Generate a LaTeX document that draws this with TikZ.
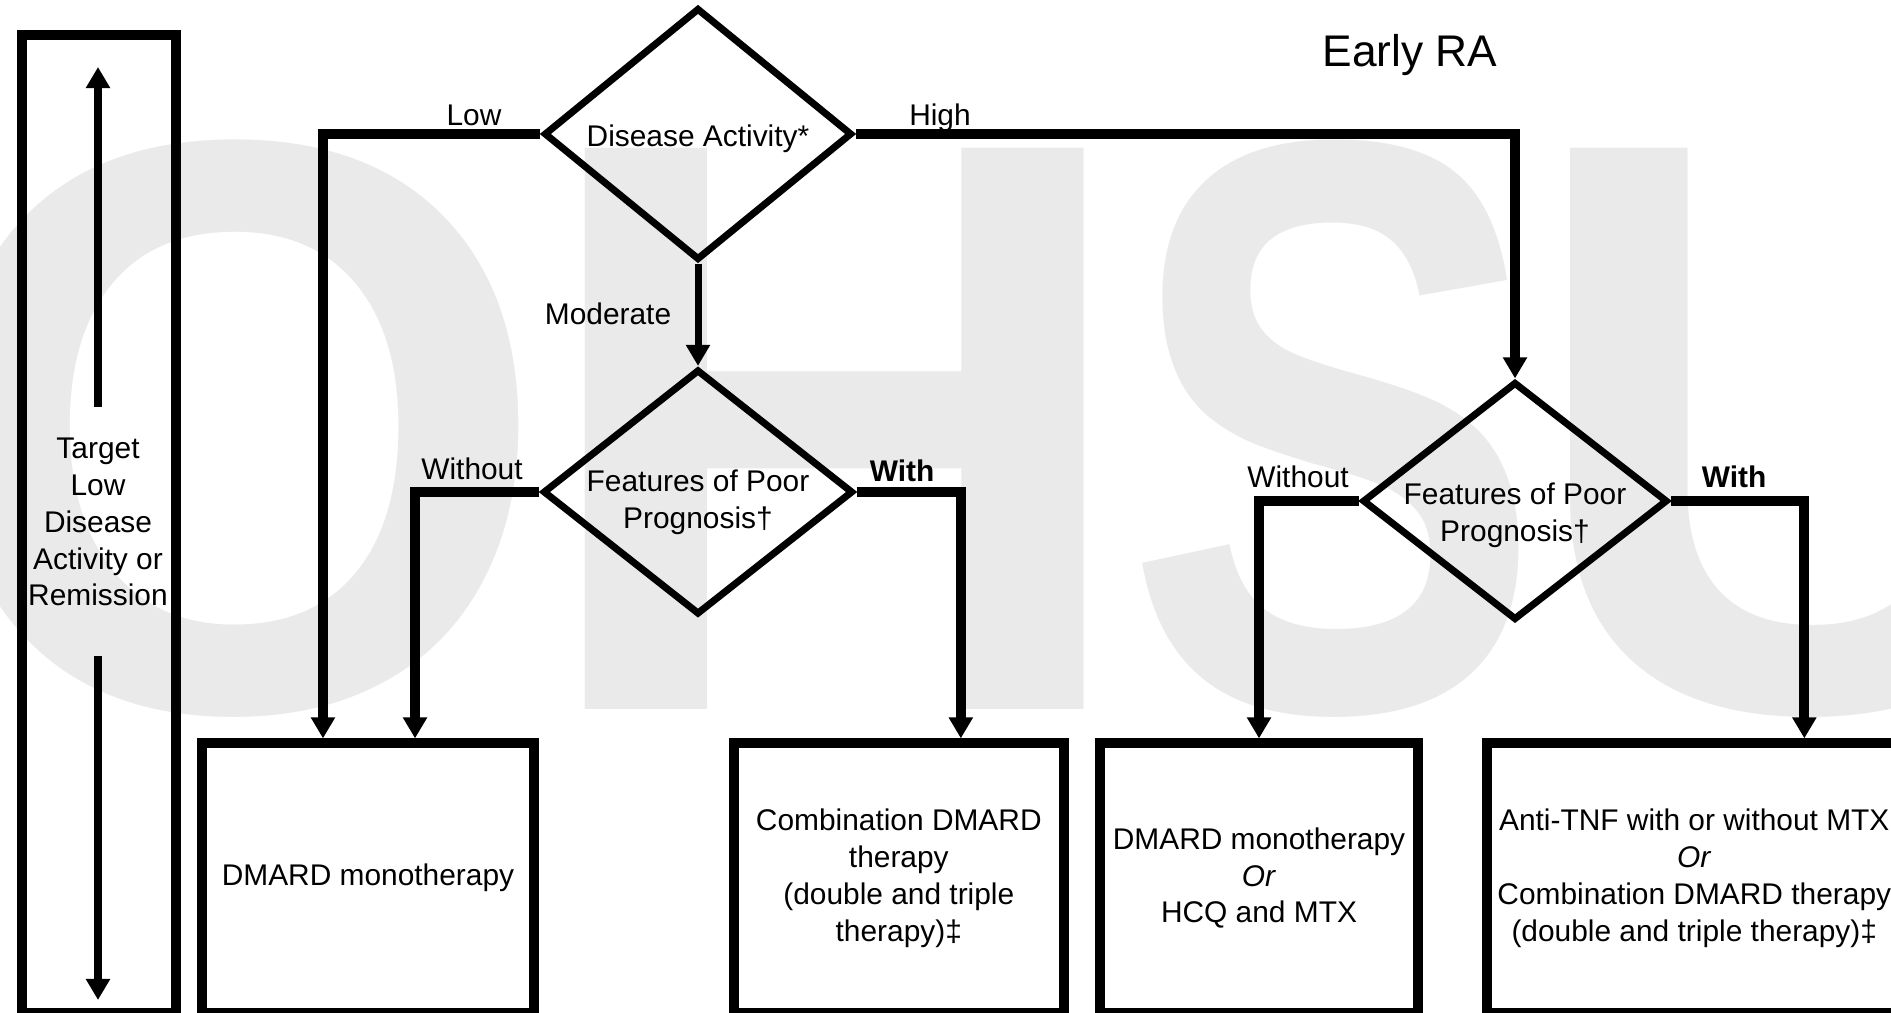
\documentclass[tikz,border=0pt]{standalone}
\usepackage{fontspec}
\setmainfont{Liberation Sans}
\usetikzlibrary{arrows.meta, positioning, shapes.geometric}
\definecolor{wmGray}{HTML}{EAEAEA}

\begin{document}
\begin{tikzpicture}[x=0.01cm, y=-0.01cm,
  node distance=1.9cm,
  every node/.style={font=\fontsize{8.5}{10.5}\selectfont, align=center, inner sep=0pt},
  box/.style={rectangle, draw, line width=0.1cm, minimum width=3.31cm, minimum height=2.69cm},
  decision/.style={diamond, draw, line width=0.07cm, minimum width=3.08cm, minimum height=2.52cm},
  lbl/.style={anchor=base},
  wmark/.style={anchor=base, text=wmGray, font=\fontsize{232}{232}\selectfont\bfseries},
  arr/.style={-{Triangle[width=0.23cm, length=0.21cm]}, line width=0.1cm}
]
  \useasboundingbox (0,0) rectangle (1891,1013);
  \clip (0,0) rectangle (1891,1013);

  % watermark
  \foreach \ch/\cx/\sx in {O/236/1, H/835/1.04, S/1334/0.77, U/1816/1}
    \node[wmark] (wm\ch) at (\cx,709) {\scalebox{\sx}[1]{\ch}};

  \node[lbl, font=\fontsize{12.6}{15}\selectfont] (title) at (1410,67) {Early RA};

  % target column
  \node[box, minimum width=1.54cm, minimum height=9.78cm] (target) at (99,524) {};
  \node (tgtxt) at (98,522) {Target\\Low\\Disease\\Activity or\\Remission};
  \coordinate (uptip)  at (98,67);
  \coordinate (upbase) at (98,407);
  \coordinate (dnbase) at (98,656);
  \coordinate (dntip)  at (98,1000);
  \draw[arr, line width=0.08cm] (upbase) -- (uptip);
  \draw[arr, line width=0.08cm] (dnbase) -- (dntip);

  % decisions
  \node[decision] (activity) at (698,134) {};
  \node[decision, minimum width=3.10cm, minimum height=2.45cm] (prog1) at (698,492) {};
  \node[decision, minimum width=3.05cm, minimum height=2.38cm] (prog2) at (1515,501) {};
  \node (acttxt)   at ([yshift=-0.05cm]activity.center) {Disease Activity*};
  \node (prog1txt) at ([yshift=-0.1cm]prog1.center) {Features of Poor\\Prognosis†};
  \node (prog2txt) at ([yshift=-0.14cm]prog2.center) {Features of Poor\\Prognosis†};

  % treatments
  \node[box] (mono) at (368,878) {DMARD monotherapy};
  \node[box, right=of mono, minimum width=3.30cm] (combo) {Combination DMARD\\therapy\\(double and triple\\therapy)‡};
  \node[box, right=0.26cm of combo, minimum width=3.18cm] (monoalt) {DMARD monotherapy\\\textit{Or}\\HCQ and MTX};
  \node[box, right=0.59cm of monoalt, minimum width=4.14cm] (tnf) {Anti-TNF with or without MTX\\\textit{Or}\\Combination DMARD therapy\\(double and triple therapy)‡};

  % labels
  \node[lbl] (low)   at (474,126) {Low};
  \node[lbl] (high)  at (940,126) {High};
  \node[lbl] (mod)   at (608,325) {Moderate};
  \node[lbl] (wo1)   at (472,480) {Without};
  \node[lbl] (w1)    at (902,482) {\bfseries With};
  \node[lbl] (wo2)   at (1298,488) {Without};
  \node[lbl] (w2)    at (1734,488) {\bfseries With};

  \draw[arr] (activity.west) -| ([xshift=-0.45cm]mono.north);
  \draw[arr] (activity.east) -| (prog2.north);
  \draw[arr, line width=0.07cm] (activity.south) -- (prog1.north);
  \draw[arr] (prog1.west) -| ([xshift=0.47cm]mono.north);
  \draw[arr] (prog1.east) -| ([xshift=0.62cm]combo.north);
  \draw[arr] (prog2.west) -| (monoalt.north);
  \draw[arr] (prog2.east) -| ([xshift=1.1cm]tnf.north);
\end{tikzpicture}
\end{document}
